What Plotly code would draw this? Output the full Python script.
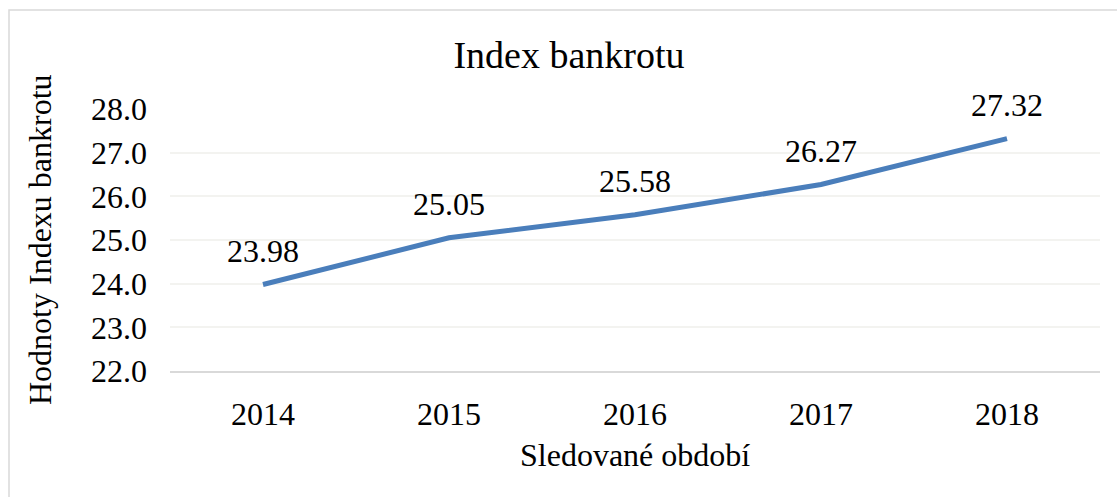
import plotly.graph_objects as go

# Data
YEARS = ["2014", "2015", "2016", "2017", "2018"]
INDEX_VALUES = [23.98, 25.05, 25.58, 26.27, 27.32]
Y_TICKS = [22.0, 23.0, 24.0, 25.0, 26.0, 27.0, 28.0]

TITLE = "Index bankrotu"
X_TITLE = "Sledované období"
Y_TITLE = "Hodnoty Indexu bankrotu"

FONT = "Liberation Serif"
LINE_COLOUR = "#4A7EBB"
W, H = 1117, 497
M_L, M_R, M_T, M_B = 170, 17, 109, 126

fig = go.Figure()
fig.add_trace(
    go.Scatter(
        x=YEARS,
        y=INDEX_VALUES,
        mode="lines",
        line=dict(color=LINE_COLOUR, width=5),
        showlegend=False,
        hoverinfo="skip",
    )
)

# value labels sitting above each point (x as category index)
for i, v in enumerate(INDEX_VALUES):
    fig.add_annotation(
        x=i, y=v, xref="x", yref="y", text=f"{v:.2f}", showarrow=False,
        yshift=34, yanchor="middle",
        font=dict(family=FONT, size=32, color="#000000"),
    )

plot_w = W - M_L - M_R
plot_h = H - M_T - M_B

# axis titles as annotations for exact placement
fig.add_annotation(
    xref="paper", yref="paper", x=(40 - M_L) / plot_w, y=0.5,
    text=Y_TITLE, textangle=-90, showarrow=False,
    xanchor="center", yanchor="middle",
    font=dict(family=FONT, size=32, color="#000000"),
)
fig.add_annotation(
    xref="paper", yref="paper", x=0.5, y=-(455 - (H - M_B)) / plot_h,
    text=X_TITLE, showarrow=False,
    xanchor="center", yanchor="middle",
    font=dict(family=FONT, size=32, color="#000000"),
)

# chart-area border (runs off the right and bottom edges)
fig.add_shape(
    type="rect", xref="paper", yref="paper",
    x0=(9 - M_L) / plot_w, x1=1.1,
    y0=-0.7, y1=((H - M_B) - 10) / plot_h,
    line=dict(color="#D9D9D9", width=1.5),
    layer="below",
)

fig.update_xaxes(
    type="category",
    range=[-0.5, 4.5],
    showgrid=False,
    showline=True, linecolor="#D9D9D9", linewidth=2,
    ticks="",
    ticklabelstandoff=14,
    tickfont=dict(family=FONT, size=32, color="#000000"),
)
fig.update_yaxes(
    range=[22, 28],
    tickmode="array",
    tickvals=Y_TICKS,
    ticktext=[f"{t:.1f}" for t in Y_TICKS],
    showgrid=True, gridcolor="#F3F3F0", gridwidth=1.5,
    zeroline=False, showline=False, ticks="",
    ticklabelstandoff=22,
    tickfont=dict(family=FONT, size=32, color="#000000"),
)
fig.update_layout(
    width=W, height=H,
    margin=dict(l=M_L, r=M_R, t=M_T, b=M_B),
    title=dict(
        text=TITLE, x=569 / W, xanchor="center",
        y=1 - 55 / H, yanchor="middle",
        font=dict(family=FONT, size=38, color="#000000"),
    ),
    font=dict(family=FONT, color="#000000"),
    plot_bgcolor="#FFFFFF",
    paper_bgcolor="#FFFFFF",
)

# drop the default 8px page margin so the figure sits at the window corner
fig.write_html(
    "out.html",
    config={"displayModeBar": False},
    post_script="document.body.style.margin='0';",
)
